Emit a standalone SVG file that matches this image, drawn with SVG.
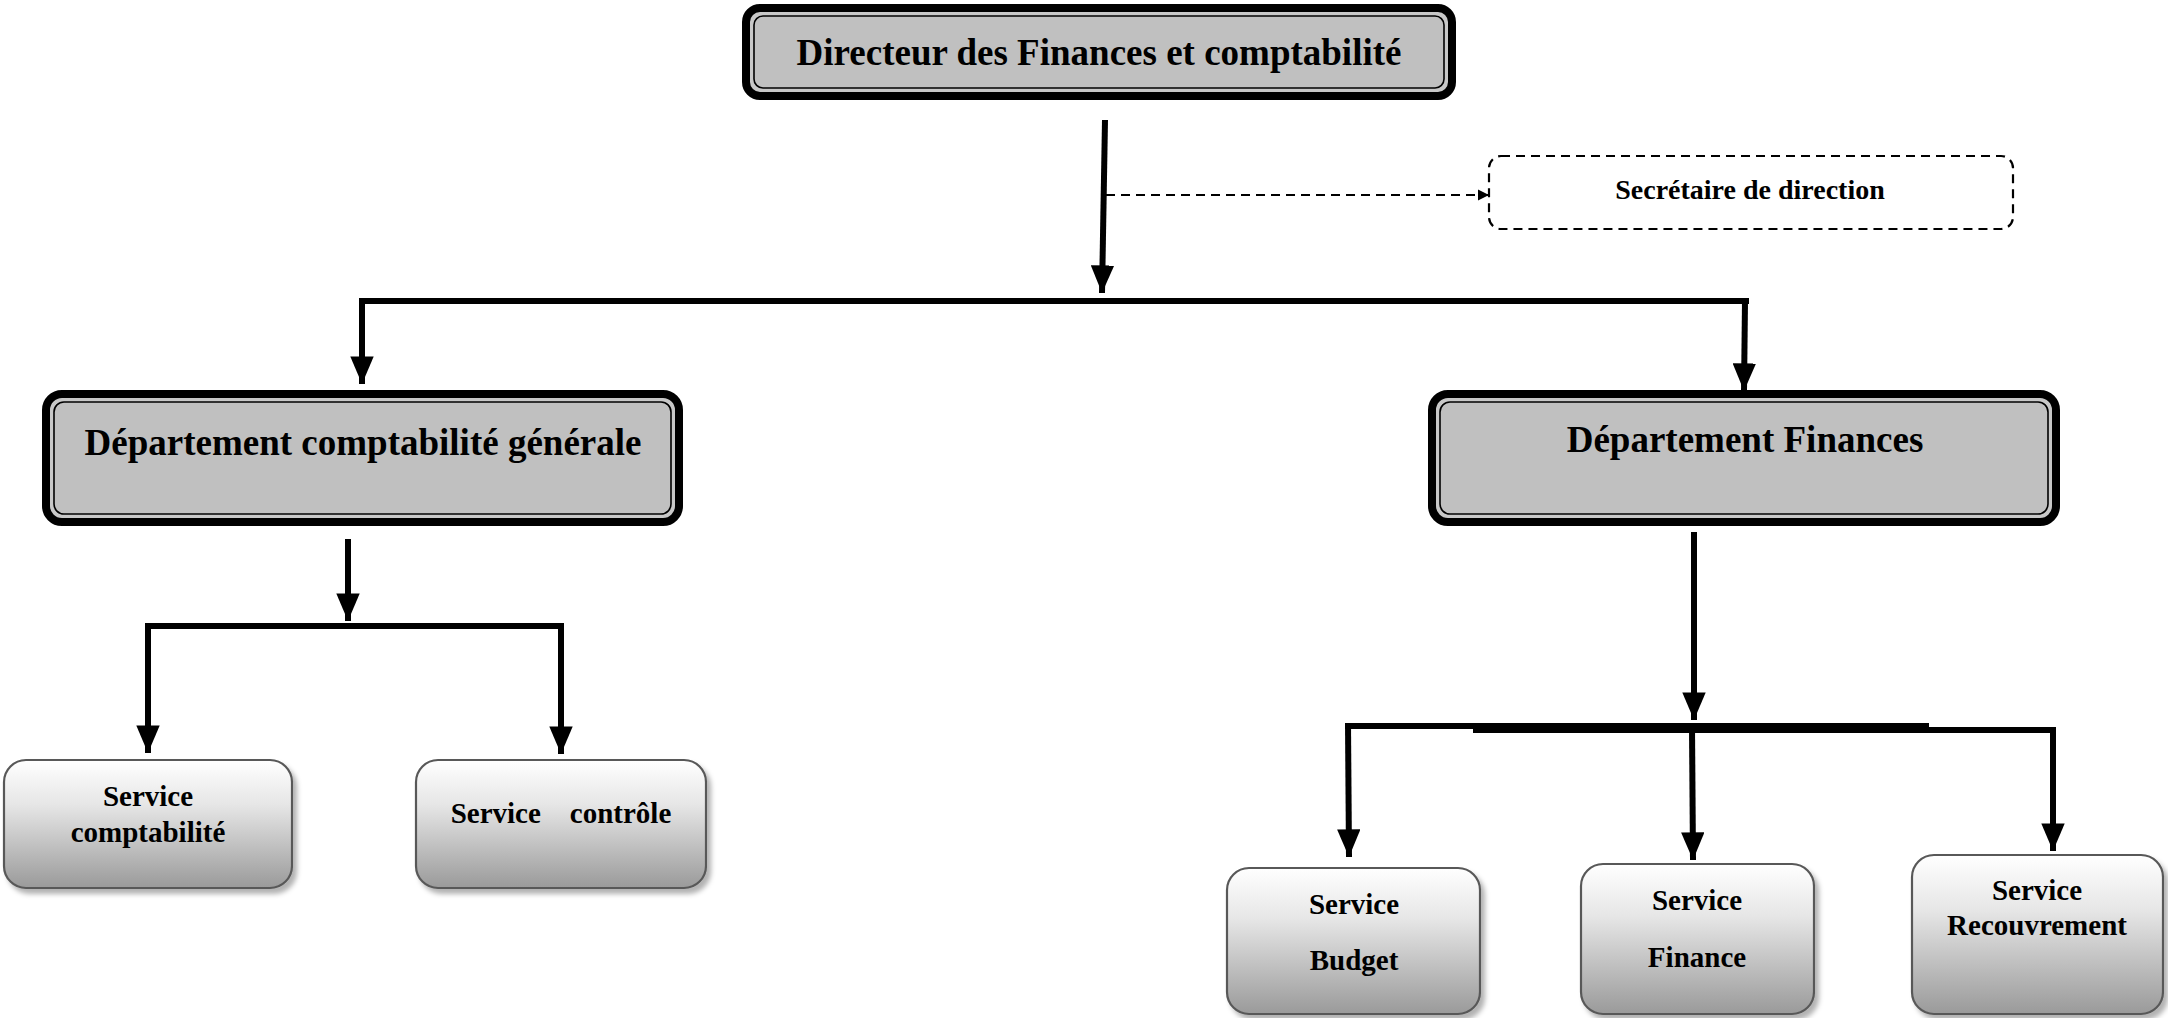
<svg xmlns="http://www.w3.org/2000/svg" width="2168" height="1018" viewBox="0 0 2168 1018">
  <style>
    .lbl { font-family: "Liberation Serif", "Times New Roman", serif; font-weight: bold; fill: #000; text-anchor: middle; }
    .big { font-size: 37px; }
    .mid { font-size: 28px; }
    .svc { font-size: 29px; }
    .frame { fill: #c8c8c8; stroke: #000; stroke-width: 8; }
    .core { fill: #c0c0c0; stroke: #000; stroke-width: 1.6; }
    .service { fill: url(#svcGrad); stroke: #595959; stroke-width: 2.2; filter: url(#shadow); }
    .link { fill: none; stroke: #000; stroke-width: 6; }
    .dash { fill: none; stroke: #000; stroke-width: 2.2; stroke-dasharray: 9 6; }
  </style>
  <defs>
    <linearGradient id="svcGrad" x1="0" y1="0" x2="0" y2="1">
      <stop offset="0" stop-color="#ffffff"/>
      <stop offset="0.35" stop-color="#e6e6e6"/>
      <stop offset="1" stop-color="#9a9a9a"/>
    </linearGradient>
    <filter id="shadow" x="-10%" y="-10%" width="125%" height="130%">
      <feDropShadow dx="4" dy="5" stdDeviation="2.5" flood-color="#000" flood-opacity="0.3"/>
    </filter>
    <marker id="arrow" viewBox="0 0 10 10" refX="10" refY="5" markerWidth="4.6" markerHeight="3.9" markerUnits="strokeWidth" orient="auto" preserveAspectRatio="none">
      <path d="M0,0 L10,5 L0,10 Z" fill="#000"/>
    </marker>
    <marker id="arrowSmall" viewBox="0 0 10 10" refX="10" refY="5" markerWidth="5" markerHeight="6" markerUnits="strokeWidth" orient="auto">
      <path d="M0,0 L10,5 L0,10 Z" fill="#000"/>
    </marker>
  </defs>

  <!-- connectors -->
  <g id="connectors">
    <line class="link" x1="1105" y1="120" x2="1102" y2="293" marker-end="url(#arrow)"/>
    <line class="dash" x1="1106" y1="195" x2="1489" y2="195" marker-end="url(#arrowSmall)"/>
    <polyline class="link" points="362,330 362,301 1749,301"/>
    <line class="link" x1="362" y1="301" x2="362" y2="384" marker-end="url(#arrow)"/>
    <line class="link" x1="1745" y1="301" x2="1744" y2="391" marker-end="url(#arrow)"/>

    <line class="link" x1="348" y1="539" x2="348" y2="621" marker-end="url(#arrow)"/>
    <line class="link" x1="145" y1="626" x2="564" y2="626"/>
    <line class="link" x1="148" y1="623" x2="148" y2="753" marker-end="url(#arrow)"/>
    <line class="link" x1="561" y1="623" x2="561" y2="754" marker-end="url(#arrow)"/>

    <line class="link" x1="1694" y1="532" x2="1694" y2="720" marker-end="url(#arrow)"/>
    <line class="link" x1="1345" y1="726" x2="1929" y2="726"/>
    <line class="link" x1="1473" y1="730" x2="2056" y2="730"/>
    <line class="link" x1="1348" y1="723" x2="1349" y2="857" marker-end="url(#arrow)"/>
    <line class="link" x1="1692" y1="727" x2="1693" y2="860" marker-end="url(#arrow)"/>
    <line class="link" x1="2053" y1="727" x2="2053" y2="851" marker-end="url(#arrow)"/>
  </g>

  <!-- top management -->
  <g id="directeur">
    <rect class="frame" x="746" y="8" width="706" height="88" rx="14"/>
    <rect class="core" x="754" y="16" width="690" height="72" rx="9"/>
    <text class="lbl big" x="1099" y="65">Directeur des Finances et comptabilité</text>
  </g>

  <g id="secretaire">
    <rect class="dash" x="1489" y="156" width="524" height="73" rx="12" fill="#fff"/>
    <text class="lbl mid" x="1750" y="199">Secrétaire de direction</text>
  </g>

  <!-- departments -->
  <g id="dept-comptabilite">
    <rect class="frame" x="46" y="394" width="633" height="128" rx="16"/>
    <rect class="core" x="54" y="402" width="617" height="112" rx="10"/>
    <text class="lbl big" x="363" y="455">Département comptabilité générale</text>
  </g>

  <g id="dept-finances">
    <rect class="frame" x="1432" y="394" width="624" height="128" rx="16"/>
    <rect class="core" x="1440" y="402" width="608" height="112" rx="10"/>
    <text class="lbl big" x="1745" y="452">Département Finances</text>
  </g>

  <!-- services -->
  <g id="service-comptabilite">
    <rect class="service" x="4" y="760" width="288" height="128" rx="22"/>
    <text class="lbl svc" x="148" y="806">Service</text>
    <text class="lbl svc" x="148" y="842">comptabilité</text>
  </g>

  <g id="service-controle">
    <rect class="service" x="416" y="760" width="290" height="128" rx="22"/>
    <text class="lbl svc" x="561" y="823" xml:space="preserve">Service    contrôle</text>
  </g>

  <g id="service-budget">
    <rect class="service" x="1227" y="868" width="253" height="146" rx="22"/>
    <text class="lbl svc" x="1354" y="914">Service</text>
    <text class="lbl svc" x="1354" y="970">Budget</text>
  </g>

  <g id="service-finance">
    <rect class="service" x="1581" y="864" width="233" height="150" rx="22"/>
    <text class="lbl svc" x="1697" y="910">Service</text>
    <text class="lbl svc" x="1697" y="967">Finance</text>
  </g>

  <g id="service-recouvrement">
    <rect class="service" x="1912" y="855" width="251" height="159" rx="22"/>
    <text class="lbl svc" x="2037" y="900">Service</text>
    <text class="lbl svc" x="2037" y="935">Recouvrement</text>
  </g>
</svg>
